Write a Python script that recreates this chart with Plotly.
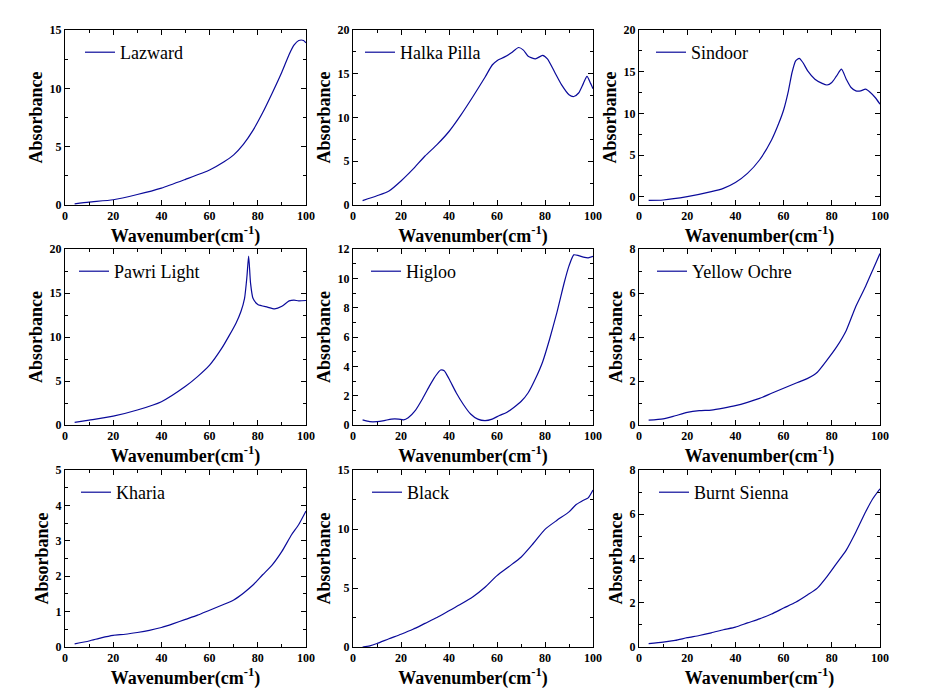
import plotly.graph_objects as go

# ---------------- data ----------------
names = ["Lazward", "Halka Pilla", "Sindoor", "Pawri Light", "Higloo",
         "Yellow Ochre", "Kharia", "Black", "Burnt Sienna"]

lazward_x = [4, 10, 20, 30, 40, 50, 60, 66, 70, 74, 78, 82, 86, 90, 93, 95, 97, 99, 100]
lazward_y = [0.1, 0.25, 0.45, 0.9, 1.45, 2.2, 3.0, 3.7, 4.3, 5.2, 6.4, 7.9, 9.6, 11.4, 12.9, 13.7, 14.1, 14.1, 13.9]

halka_x = [4, 10, 15, 20, 25, 30, 35, 40, 45, 50, 55, 58, 60, 63, 66, 69, 71, 73, 76, 79, 81, 84, 87, 90, 92, 94, 96, 97.5, 99, 100]
halka_y = [0.5, 1.05, 1.6, 2.75, 4.1, 5.6, 6.9, 8.4, 10.3, 12.4, 14.6, 16.0, 16.5, 16.9, 17.4, 18.0, 17.7, 17.0, 16.7, 17.1, 16.7, 15.2, 13.7, 12.6, 12.4, 12.8, 13.9, 14.7, 13.9, 13.3]

sindoor_x = [4, 10, 20, 30, 35, 40, 45, 50, 55, 58, 60, 62, 63.5, 65, 66.5, 68, 70, 73, 76, 78, 80, 82, 84, 86, 88, 90, 92, 94, 96, 98, 100]
sindoor_y = [-0.45, -0.4, 0.0, 0.6, 1.0, 1.7, 2.8, 4.4, 6.8, 8.8, 10.4, 12.7, 14.9, 16.3, 16.6, 16.1, 15.1, 14.1, 13.6, 13.4, 13.7, 14.5, 15.3, 14.1, 13.1, 12.7, 12.7, 12.9, 12.5, 11.9, 11.1]

pawri_x = [4, 10, 20, 30, 40, 50, 55, 60, 65, 68, 71, 73, 74.5, 75.5, 76.2, 77, 78, 80, 84, 87, 90, 93, 95, 97, 100]
pawri_y = [0.3, 0.55, 1.0, 1.7, 2.65, 4.4, 5.5, 6.8, 8.7, 10.1, 11.6, 12.9, 14.4, 16.9, 19.2, 16.1, 14.4, 13.7, 13.4, 13.2, 13.5, 14.1, 14.2, 14.1, 14.15]

higloo_x = [4, 7, 10, 13, 16, 19, 21, 23, 26, 29, 32, 34, 36.5, 38, 40, 43, 46, 49, 52, 55, 58, 61, 64, 67, 70, 73, 76, 79, 82, 85, 88, 90, 92, 94, 96, 98, 100]
higloo_y = [0.35, 0.23, 0.23, 0.3, 0.4, 0.4, 0.35, 0.5, 1.0, 1.8, 2.7, 3.25, 3.75, 3.7, 3.15, 2.2, 1.4, 0.75, 0.4, 0.3, 0.4, 0.65, 0.85, 1.2, 1.6, 2.2, 3.15, 4.3, 5.9, 7.7, 9.7, 10.85, 11.6, 11.55, 11.45, 11.4, 11.5]

ochre_x = [4, 10, 15, 20, 25, 30, 35, 40, 45, 50, 55, 60, 65, 70, 74, 78, 82, 86, 90, 94, 97, 100]
ochre_y = [0.22, 0.28, 0.42, 0.57, 0.65, 0.68, 0.77, 0.88, 1.03, 1.21, 1.44, 1.67, 1.9, 2.12, 2.4, 2.95, 3.55, 4.3, 5.4, 6.3, 7.05, 7.8]

kharia_x = [4, 10, 15, 20, 25, 30, 35, 40, 45, 50, 55, 60, 65, 70, 74, 78, 82, 86, 90, 94, 97, 100]
kharia_y = [0.09, 0.17, 0.26, 0.33, 0.36, 0.41, 0.47, 0.55, 0.66, 0.78, 0.9, 1.04, 1.18, 1.33, 1.52, 1.75, 2.04, 2.32, 2.7, 3.17, 3.46, 3.84]

black_x = [4, 7, 10, 15, 20, 25, 30, 35, 40, 45, 50, 55, 60, 65, 70, 75, 80, 85, 90, 93, 96, 98, 100]
black_y = [0.0, 0.1, 0.3, 0.7, 1.08, 1.5, 2.0, 2.5, 3.07, 3.64, 4.26, 5.06, 6.05, 6.82, 7.61, 8.75, 9.97, 10.74, 11.45, 12.07, 12.44, 12.64, 13.3]

sienna_x = [4, 10, 15, 20, 25, 30, 35, 40, 45, 50, 55, 60, 65, 70, 74, 78, 82, 86, 90, 94, 97, 100]
sienna_y = [0.15, 0.22, 0.3, 0.42, 0.52, 0.64, 0.78, 0.9, 1.09, 1.27, 1.49, 1.76, 2.02, 2.36, 2.66, 3.18, 3.78, 4.38, 5.2, 6.1, 6.7, 7.15]

series_x = [lazward_x, halka_x, sindoor_x, pawri_x, higloo_x, ochre_x, kharia_x, black_x, sienna_x]
series_y = [lazward_y, halka_y, sindoor_y, pawri_y, higloo_y, ochre_y, kharia_y, black_y, sienna_y]

y_ranges = [[0, 15], [0, 20], [-1, 20], [0, 20], [0, 12], [0, 8], [0, 5], [0, 15], [0, 8]]
y_dticks = [5, 5, 5, 5, 2, 2, 1, 5, 2]
x_ticks = [0, 20, 40, 60, 80, 100]

# ---------------- layout geometry ----------------
PAGE_W, PAGE_H = 932, 689
OFF = 8                      # default body margin of the html page
W, H = PAGE_W - OFF, PAGE_H - OFF
col_px = [(65, 306), (353, 593), (639, 880)]     # page pixels
row_px = [(30, 205), (249, 425), (470, 647)]
legend_dx = [21, 13, 18, 15, 19, 19, 17, 20, 21]

FONT = "Liberation Serif"
LINE_COLOR = "#0a0a9a"


def fx(p):
    return (p - OFF) / W


def fy(p):
    return 1 - (p - OFF) / H


fig = go.Figure()
layout = dict(
    width=W, height=H, margin=dict(l=0, r=0, t=0, b=0, autoexpand=False),
    paper_bgcolor="white", plot_bgcolor="white", showlegend=True,
    font=dict(family=FONT, color="black"),
)

for i in range(9):
    r, c = divmod(i, 3)
    n = "" if i == 0 else str(i + 1)
    x0, x1 = col_px[c]
    yt, yb = row_px[r]
    leg = "legend" + n
    fig.add_trace(go.Scatter(
        x=series_x[i], y=series_y[i], mode="lines", name=names[i],
        line=dict(color=LINE_COLOR, width=1.2, shape="spline", smoothing=0.6),
        xaxis="x" + n, yaxis="y" + n, legend=leg,
    ))
    common = dict(
        showline=True, linecolor="black", linewidth=1, mirror="allticks",
        ticks="inside", ticklen=5, tickwidth=1, tickcolor="black",
        showgrid=False, zeroline=False, automargin=False,
        tickfont=dict(family=FONT, size=12, color="black", weight="bold"),
        minor=dict(ticks="inside", ticklen=3, tickwidth=1, tickcolor="black", showgrid=False),
    )
    layout["xaxis" + n] = dict(
        common, domain=[fx(x0), fx(x1)], anchor="y" + n, range=[0, 100],
        tickmode="array", tickvals=x_ticks, ticktext=[str(v) for v in x_ticks],
        minor=dict(common["minor"], dtick=10, tick0=0),
        title=dict(text="Wavenumber(cm<sup>-1</sup>)", standoff=2,
                   font=dict(family=FONT, size=18, color="black", weight="bold")),
    )
    layout["yaxis" + n] = dict(
        common, domain=[fy(yb), fy(yt)], anchor="x" + n,
        range=y_ranges[i], tick0=0, dtick=y_dticks[i],
        minor=dict(common["minor"], dtick=y_dticks[i] / 2, tick0=0),
        title=dict(text="Absorbance", standoff=2,
                   font=dict(family=FONT, size=18, color="black", weight="bold")),
    )
    layout[leg] = dict(
        x=fx(x0 + legend_dx[i] - 6), y=fy(yt + 4),
        xanchor="left", yanchor="top",
        bgcolor="rgba(0,0,0,0)", borderwidth=0,
        font=dict(family=FONT, size=18, color="black"),
        itemwidth=30,
    )

fig.update_layout(**layout)
fig.write_html("out.html")
